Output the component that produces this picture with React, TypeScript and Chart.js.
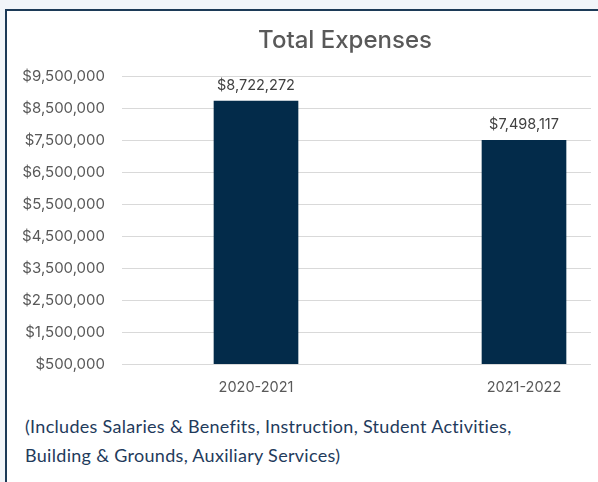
import React, { useEffect, useRef } from "react";
import Chart from "chart.js/auto";

const categories = ["2020-2021", "2021-2022"];
const totalExpenses = [8722272, 7498117];
const yTicks = [500000, 1500000, 2500000, 3500000, 4500000, 5500000, 6500000, 7500000, 8500000, 9500000];
const chartTitle = "Total Expenses";
const captionLines = [
  "(Includes Salaries & Benefits, Instruction, Student Activities,",
  "Building & Grounds, Auxiliary Services)",
];

const fmt = (v: number) => "$" + Math.round(v).toLocaleString("en-US");

const BAR_COLOR = "#032b4a";
const TEXT_GRAY = "#595959";
const FONT = "Inter";

export default function App() {
  const canvasRef = useRef<HTMLCanvasElement | null>(null);

  useEffect(() => {
    let chart: Chart | null = null;
    let cancelled = false;
    const make = () => {
      if (cancelled || !canvasRef.current) return;
      const labelPlugin = {
        id: "barLabels",
        afterDatasetsDraw(c: any) {
          const ctx = c.ctx;
          const meta = c.getDatasetMeta(0);
          ctx.save();
          ctx.font = "14.5px " + FONT;
          ctx.fillStyle = "#404040";
          ctx.textAlign = "center";
          ctx.textBaseline = "bottom";
          meta.data.forEach((el: any, i: number) => {
            ctx.fillText(fmt(totalExpenses[i]), el.x, el.y - 8);
          });
          ctx.restore();
        },
      };
      chart = new Chart(canvasRef.current, {
        type: "bar",
        data: {
          datasets: [
            {
              data: categories.map((c, i) => ({ x: i, y: totalExpenses[i] })) as any,
              backgroundColor: BAR_COLOR,
              barThickness: 84,
            },
          ],
        },
        options: {
          animation: false,
          responsive: false,
          layout: { padding: 0 },
          plugins: {
            legend: { display: false },
            tooltip: { enabled: false },
            title: {
              display: true,
              text: chartTitle,
              color: TEXT_GRAY,
              font: { family: FONT, size: 24, weight: 500, lineHeight: 1.2 },
              padding: { top: 26, bottom: 21.5 },
            },
          },
          scales: {
            x: {
              type: "linear",
              offset: false,
              min: -0.5,
              max: 1.25,
              grid: { display: false, drawTicks: false, offset: false },
              border: { display: false },
              afterBuildTicks: (s: any) => {
                s.ticks = categories.map((_, i) => ({ value: i }));
              },
              afterFit: (s: any) => {
                s.height = 36;
              },
              ticks: {
                callback: (v: any) => categories[Math.round(Number(v))] ?? "",
                color: TEXT_GRAY,
                font: { family: FONT, size: 14.5 },
                padding: 15,
                autoSkip: false,
                maxRotation: 0,
              },
            },
            y: {
              min: yTicks[0],
              max: yTicks[yTicks.length - 1],
              afterBuildTicks: (s: any) => {
                s.ticks = yTicks.map((v) => ({ value: v }));
              },
              afterFit: (s: any) => {
                s.width = 122;
              },
              grid: { color: "#d9d9d9", drawTicks: false, lineWidth: 1 },
              border: { display: false },
              ticks: {
                callback: (v: any) => fmt(Number(v)),
                color: TEXT_GRAY,
                font: { family: FONT, size: 15 },
                padding: 17,
              },
            },
            yRightSpace: {
              position: "right",
              display: true,
              min: 0,
              max: 1,
              grid: { display: false, drawTicks: false },
              border: { display: false },
              ticks: { display: false },
              afterFit: (s: any) => {
                s.width = 99;
              },
            },
          },
        },
        plugins: [labelPlugin],
      });
    };
    const fontsApi = (document as any).fonts;
    if (fontsApi && fontsApi.load) {
      Promise.all([
        fontsApi.load("15px Inter"),
        fontsApi.load("500 24px Inter"),
        fontsApi.load("18px Lato"),
      ])
        .catch(() => {})
        .then(make);
    } else {
      make();
    }
    return () => {
      cancelled = true;
      if (chart) chart.destroy();
    };
  }, []);

  return (
    <div
      style={{
        position: "fixed",
        left: 0,
        top: 0,
        width: 598,
        height: 482,
        overflow: "hidden",
        background: "#f1f5f9",
      }}
    >
      <div
        style={{
          position: "absolute",
          left: 5,
          top: 9,
          width: 800,
          height: 700,
          border: "2px solid #1c3a57",
          background: "#ffffff",
        }}
      />
      <canvas
        ref={canvasRef}
        width={690}
        height={400}
        style={{ position: "absolute", left: 0, top: 0, width: 690, height: 400 }}
      />
      <div
        style={{
          position: "absolute",
          left: 25,
          top: 412,
          fontFamily: "Lato, sans-serif",
          fontSize: 18,
          letterSpacing: "0.3px",
          lineHeight: "29px",
          color: "#1f3b5c",
          whiteSpace: "nowrap",
        }}
      >
        {captionLines.map((l, i) => (
          <div key={i}>{l}</div>
        ))}
      </div>
    </div>
  );
}
